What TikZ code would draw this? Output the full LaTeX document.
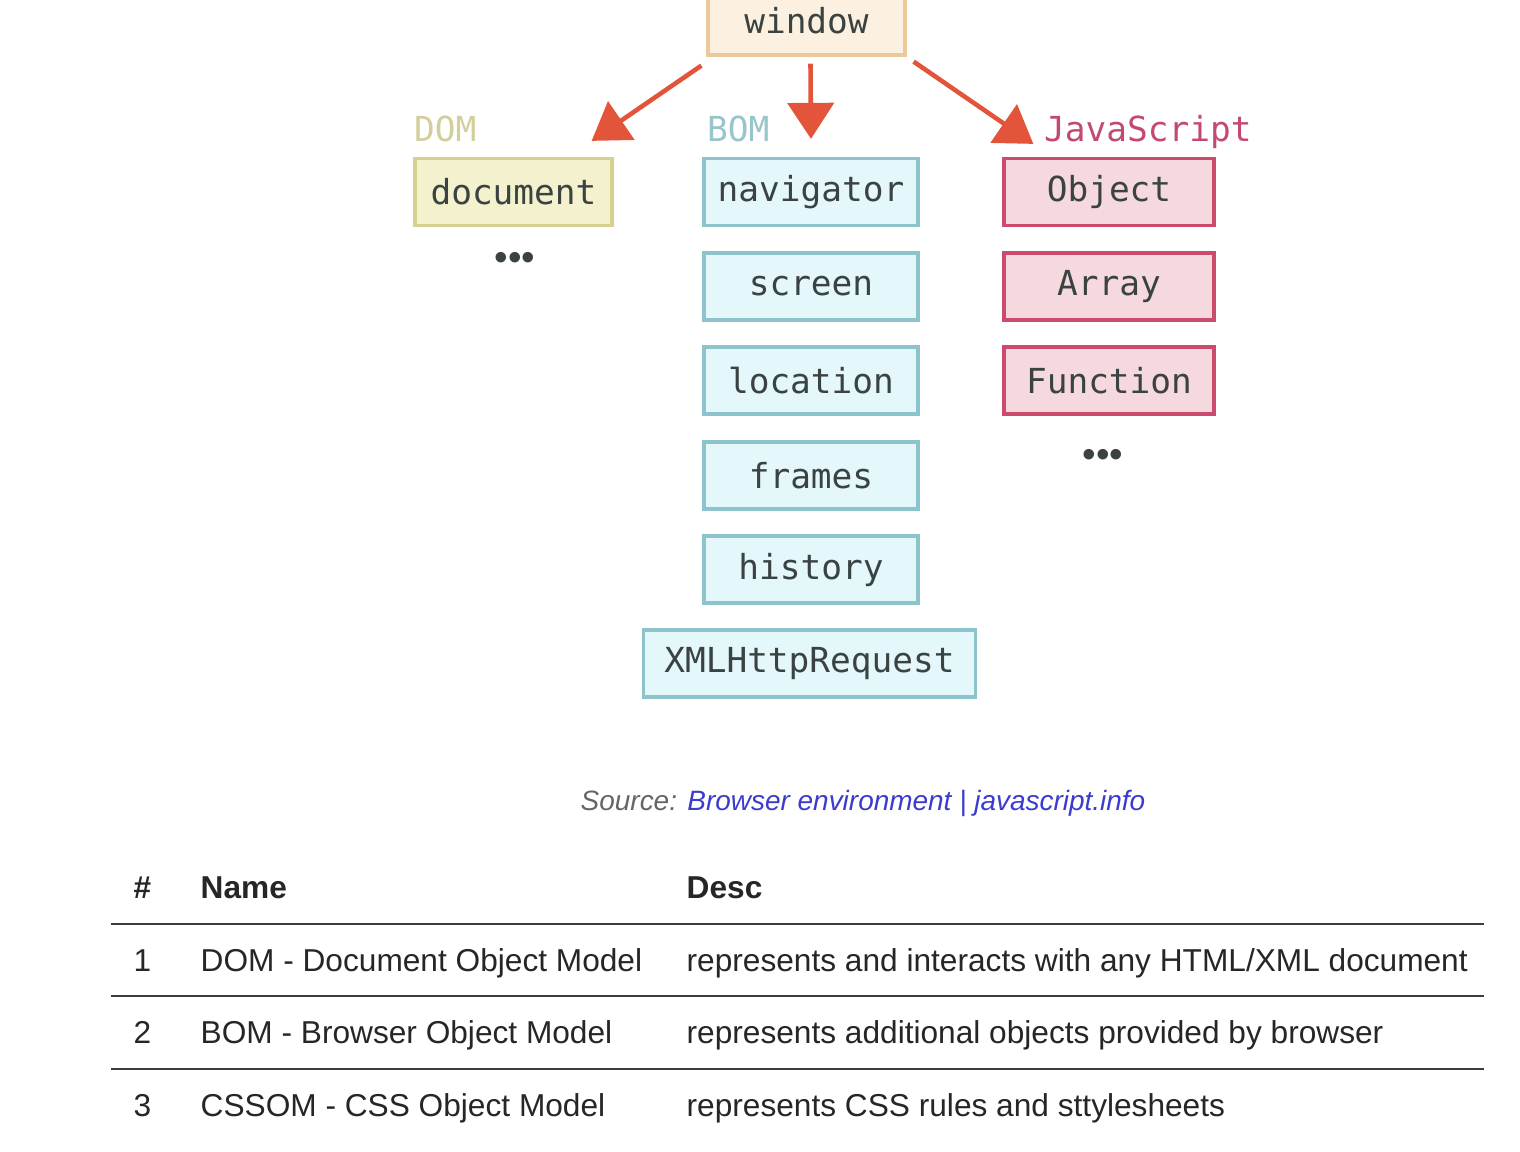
\documentclass[tikz,border=0pt]{standalone}
\usepackage{fontspec}
\setmainfont{Liberation Sans}
\setmonofont{DejaVu Sans Mono}
\usepackage{tikz}
\usepackage{xcolor}
\usetikzlibrary{arrows.meta}

\definecolor{arrowred}{HTML}{E2553B}
\definecolor{winfill}{HTML}{FCF1E0}
\definecolor{windraw}{HTML}{EBC99A}
\definecolor{domfill}{HTML}{F4F2CE}
\definecolor{domdraw}{HTML}{D6D18F}
\definecolor{domtext}{HTML}{D2CF9C}
\definecolor{bomfill}{HTML}{E4F7FB}
\definecolor{bomdraw}{HTML}{8DC3CB}
\definecolor{bomtext}{HTML}{98C4CC}
\definecolor{jsfill}{HTML}{F6D8DF}
\definecolor{jsdraw}{HTML}{CC4A6C}
\definecolor{jstext}{HTML}{C24A6E}
\definecolor{boxtext}{HTML}{3A4242}
\definecolor{linkblue}{HTML}{3B3BD0}
\definecolor{rulegray}{HTML}{3C3C3C}

\tikzset{
  objbox/.style={draw, line width=0.9pt, inner sep=0pt, minimum height=0.67cm,
    text=boxtext, font=\ttfamily\fontsize{9.8}{12}\selectfont},
  winbox/.style={objbox, fill=winfill, draw=windraw, minimum width=1.97cm, minimum height=0.68cm},
  dombox/.style={objbox, fill=domfill, draw=domdraw, minimum width=1.97cm},
  bombox/.style={objbox, fill=bomfill, draw=bomdraw, minimum width=2.14cm},
  jsbox/.style={objbox, fill=jsfill, draw=jsdraw, minimum width=2.10cm},
  grouplabel/.style={inner sep=0pt, anchor=base west, font=\ttfamily\fontsize{9.8}{12}\selectfont},
  moredots/.style={inner sep=0pt, text=boxtext, font=\fontsize{11}{12}\selectfont},
  arrowline/.style={arrowred, line width=1.3pt, -{Triangle[length=0.36cm, width=0.46cm]}},
  cell/.style={inner sep=0pt, anchor=base west, text=black!85, font=\fontsize{9}{11}\selectfont},
  headcell/.style={cell, font=\fontsize{9}{11}\selectfont\bfseries},
  rowrule/.style={rulegray, line width=0.75pt}
}

\begin{document}
\begin{tikzpicture}[x=0.01cm, y=-0.01cm]
  \useasboundingbox (0,0) rectangle (1520,1152);
  % --- window and the three groups ---------------------------------------
  \node[winbox] (window) at (806.5,21) {window};
  \node[dombox] (doc) at (513.5,192) {document};
  \node[moredots] (domdots) at (515,261) {•••};
  \foreach \y/\t/\n in {192/navigator/nav, 286.5/screen/screen,
      380.5/location/loc, 475.5/frames/frames, 569.5/history/hist}
    \node[bombox] (\n) at (811,\y) {\t};
  \node[bombox, minimum width=3.31cm] (xhr) at (809.5,663.5) {XMLHttpRequest};
  \foreach \y/\t/\n in {192/Object/obj, 286.5/Array/arr, 380.5/Function/func}
    \node[jsbox] (\n) at (1109,\y) {\t};
  \node[moredots] (jsdots) at (1103,458) {•••};

  \node[grouplabel, text=domtext] (domlbl) at ([shift={(0,-15)}]doc.north west) {DOM};
  \node[grouplabel, text=bomtext] (bomlbl) at ([shift={(4,-15)}]nav.north west) {BOM};
  \node[grouplabel, text=jstext] (jslbl) at ([shift={(41,-15)}]obj.north west) {JavaScript};

  % --- arrows out of window ---------------------------------------------
  \draw[arrowline] ([shift={(-5,9)}]window.south west) -- ([shift={(-22,-16)}]doc.north east);
  \draw[arrowline] ([shift={(4,7)}]window.south) -- ([shift={(0,-18)}]nav.north);
  \draw[arrowline] ([shift={(7,5)}]window.south east) -- ([shift={(31,-13)}]obj.north west);

  % --- source line --------------------------------------------------------
  \node[inner sep=0pt, anchor=base west, font=\fontsize{7.95}{9}\selectfont\itshape]
    (src) at (580,811) {\textcolor{black!60}{Source:} \textcolor{linkblue}{Browser environment | javascript.info}};

  % --- table ----------------------------------------------------------------
  \node[headcell] (hnum) at (133,899) {\#};
  \node[headcell] (hname) at (200,899) {Name};
  \node[headcell] (hdesc) at (686,899) {Desc};
  \foreach \y in {924,996,1069}
    \draw[rowrule] (111,\y) -- (1484,\y);
  \foreach \y/\k/\nm/\ds in {
      972/1/DOM - Document Object Model/{represents and interacts with any HTML/XML document},
      1044/2/BOM - Browser Object Model/represents additional objects provided by browser,
      1117/3/CSSOM - CSS Object Model/represents CSS rules and sttylesheets} {
    \node[cell] (num\k) at (133,\y) {\k};
    \node[cell] (name\k) at (200,\y) {\nm};
    \node[cell] (desc\k) at (686,\y) {\ds};
  }
\end{tikzpicture}
\end{document}
